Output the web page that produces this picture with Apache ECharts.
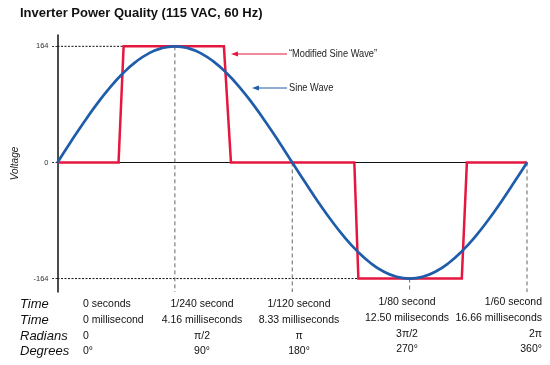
<!DOCTYPE html>
<html>
<head>
<meta charset="utf-8">
<script src="https://cdn.jsdelivr.net/npm/echarts@6/dist/echarts.min.js"></script>
<style>html,body{margin:0;padding:0;background:#fff}#c{width:550px;height:365px}</style>
</head>
<body>
<div id="c"></div>
<script>
// ---- data ----
const sineDeg = [0,10,20,30,40,50,60,70,80,90,100,110,120,130,140,150,160,170,180,190,200,210,220,230,240,250,260,270,280,290,300,310,320,330,340,350,360];
const sineVolt = [0,28.5,56.1,82,105.4,125.6,142,154.1,161.5,164,161.5,154.1,142,125.6,105.4,82,56.1,28.5,0,-28.5,-56.1,-82,-105.4,-125.6,-142,-154.1,-161.5,-164,-161.5,-154.1,-142,-125.6,-105.4,-82,-56.1,-28.5,0];
const modDeg = [0,46.8,50.7,127.6,133,227.6,230.7,310,313.9,360];
const modVolt = [0,0,164,164,0,0,-164,-164,0,0];
const yTickValues = [-164,0,164];
const hGuides = [[[0,164],[50.7,164]], [[0,-164],[230.7,-164]]];
const vGuides = [[[90,164],[90,-183]], [[180,0],[180,-183]], [[270,-164],[270,-183]], [[360,0],[360,-183]]];
const title = 'Inverter Power Quality (115 VAC, 60 Hz)';
const rowLabels = ['Time','Time','Radians','Degrees'];
const colTexts = [
  ['0 seconds','0 millisecond','0','0°'],
  ['1/240 second','4.16 milliseconds','π/2','90°'],
  ['1/120 second','8.33 milliseconds','π','180°'],
  ['1/80 second','12.50 miliseconds','3π/2','270°'],
  ['1/60 second','16.66 milliseconds','2π','360°']
];
const annModified = '“Modified Sine Wave”';
const annSine = 'Sine Wave';

// ---- layout / style ----
const RED = '#e5173f', BLUE = '#1f5dab';
const SANS = "'Liberation Sans',Arial,Helvetica,sans-serif";
const colX = [83, 202, 299, 407, 542];
const colAlign = ['left','center','center','center','right'];
const colDy = [0,0,0,-2,-2];
const rowY = [304, 320, 336, 351];

const chart = echarts.init(document.getElementById('c'));
const graphics = [];
graphics.push({type:'text', left:20, top:7, style:{text:title, font:'bold 13px '+SANS, fill:'#111'}});
rowLabels.forEach((t,i)=>graphics.push({type:'text', x:20, y:rowY[i], style:{text:t, font:'italic 13px '+SANS, fill:'#111', textVerticalAlign:'middle'}}));
colTexts.forEach((col,ci)=>col.forEach((t,ri)=>graphics.push({type:'text', x:colX[ci], y:rowY[ri]+colDy[ci], style:{text:t, font:'10.5px '+SANS, fill:'#111', textAlign:colAlign[ci], textVerticalAlign:'middle'}})));
// annotations
function arrow(x1,x2,y,color){
  graphics.push({type:'line', shape:{x1:x1+5,y1:y,x2:x2,y2:y}, style:{stroke:color, lineWidth:1}});
  graphics.push({type:'polygon', shape:{points:[[x1,y],[x1+7,y-2.5],[x1+7,y+2.5]]}, style:{fill:color}});
}
arrow(231, 287, 54, RED);
arrow(252, 287, 88, BLUE);
graphics.push({type:'text', x:289, y:54, scaleX:0.84, style:{text:annModified, font:'11px '+SANS, fill:'#222', textVerticalAlign:'middle'}});
graphics.push({type:'text', x:289, y:88, scaleX:0.84, style:{text:annSine, font:'11px '+SANS, fill:'#222', textVerticalAlign:'middle'}});

const series = [];
hGuides.forEach(g=>series.push({type:'line', data:g, symbol:'none', silent:true, z:1, lineStyle:{color:'#111', width:1, type:[2,1.5]}}));
vGuides.forEach(g=>series.push({type:'line', data:g, symbol:'none', silent:true, z:1, lineStyle:{color:'#666', width:1, type:[4,3]}}));
series.push({type:'line', data:modDeg.map((d,i)=>[d,modVolt[i]]), symbol:'none', z:3, lineStyle:{color:RED, width:2.5, join:'miter'}});
series.push({type:'line', data:sineDeg.map((d,i)=>[d,sineVolt[i]]), smooth:true, symbol:'none', z:4, lineStyle:{color:BLUE, width:2.7}});

chart.setOption({
  animation:false,
  grid:{left:57.5, right:23, top:35, bottom:73, containLabel:false},
  xAxis:{type:'value', min:0, max:360, axisLine:{show:true, onZero:true, lineStyle:{color:'#111', width:1.2}}, axisTick:{show:false}, axisLabel:{show:false}, splitLine:{show:false}},
  yAxis:{type:'value', min:-183, max:180,
    name:'Voltage', nameLocation:'middle', nameRotate:90, nameGap:37,
    nameTextStyle:{fontStyle:'italic', fontSize:10, color:'#222', fontFamily:SANS},
    axisLine:{show:true, lineStyle:{color:'#111', width:1.5}},
    axisTick:{show:true, customValues:yTickValues, length:6, lineStyle:{color:'#333', width:1, type:[2,1.5]}},
    axisLabel:{show:true, customValues:yTickValues, margin:9, fontSize:7.5, color:'#333', fontFamily:SANS},
    splitLine:{show:false}},
  graphic:graphics,
  series:series
});
</script>
</body>
</html>
